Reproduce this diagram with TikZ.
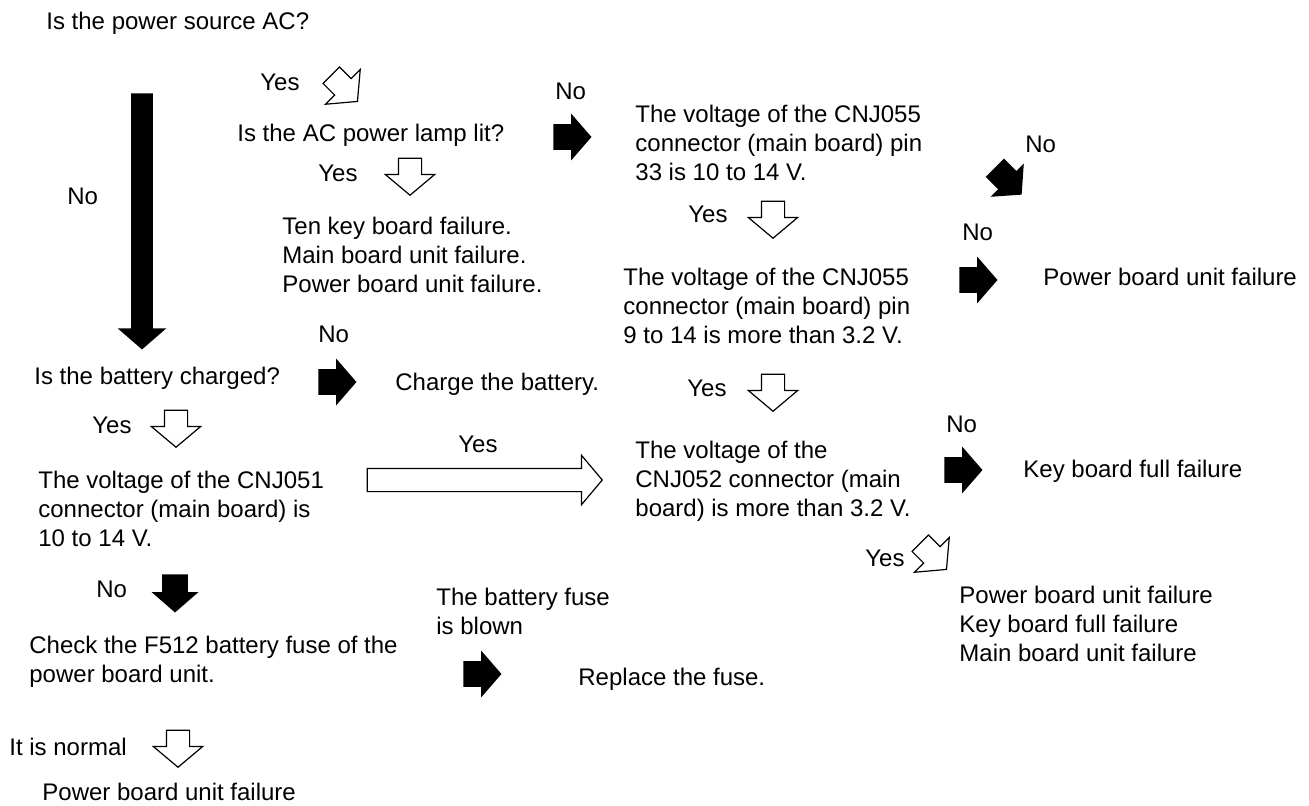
\documentclass[tikz,border=0pt]{standalone}
\usepackage{fontspec}
\setmainfont{Liberation Sans}
\usetikzlibrary{shapes.arrows}
\begin{document}
\begin{tikzpicture}[x=.5pt,y=-.5pt,
  txt/.style={anchor=base west,inner sep=0pt,align=left,font=\fontsize{12}{14.5}\selectfont},
  whitearr/.style={single arrow,draw,fill=white,line width=.6pt,inner xsep=0pt,inner ysep=5.5pt,anchor=tip,
    single arrow tip angle=100,single arrow head extend=6.5pt,minimum height=18.5pt},
  blackarr/.style={single arrow,fill=black,inner xsep=0pt,inner ysep=6.25pt,anchor=tip,
    single arrow tip angle=98,single arrow head extend=5.25pt,minimum height=19pt}]
\useasboundingbox (0,0) rectangle (1309,806);
% left column
\node[txt] (q1) at (46,30) {Is the power source AC?};
\node[blackarr,rotate=-90,inner ysep=5.25pt,single arrow head extend=6.75pt,minimum height=128pt] (bigno) at (142,350) {};
\node[txt] (n1) at (67,205) {No};
\node[txt] (q5) at (34,385) {Is the battery charged?};
\node[txt] (y4) at (92,433) {Yes};
\node[whitearr,rotate=-90] (a4) at (176,448) {};
\node[txt] (q6) at (38,546) {The voltage of the CNJ051\\connector (main board) is\\10 to 14 V.};
\node[txt] (n7) at (96,597) {No};
\node[blackarr,rotate=-90] (b5) at (175,613) {};
\node[txt] (q9) at (29,682) {Check the F512 battery fuse of the\\power board unit.};
\node[txt] (y8) at (9,755) {It is normal};
\node[whitearr,rotate=-90] (a6) at (178,768) {};
\node[txt] (r7) at (42,800) {Power board unit failure};
% AC branch
\node[txt] (y1) at (260,91) {Yes};
\node[whitearr,rotate=-45] (a1) at (358,102) {};
\node[txt] (q2) at (237,142) {Is the AC power lamp lit?};
\node[txt] (y2) at (318,182) {Yes};
\node[whitearr,rotate=-90] (a2) at (410,196) {};
\node[txt] (r1) at (282,293) {Ten key board failure.\\Main board unit failure.\\Power board unit failure.};
\node[txt] (n2) at (555,100) {No};
\node[blackarr] (b1) at (592,137) {};
\node[txt] (q3) at (635,181) {The voltage of the CNJ055\\connector (main board) pin\\33 is 10 to 14 V.};
\node[txt] (n3) at (1025,153) {No};
\node[blackarr,rotate=-45] (b2) at (1022,195) {};
\node[txt] (y3) at (688,223) {Yes};
\node[whitearr,rotate=-90] (a3) at (773,239) {};
\node[txt] (n4) at (962,241) {No};
\node[blackarr] (b3) at (998,280) {};
\node[txt] (r2) at (1043,286) {Power board unit failure};
\node[txt] (q4) at (623,344) {The voltage of the CNJ055\\connector (main board) pin\\9 to 14 is more than 3.2 V.};
% battery branch
\node[txt] (n5) at (318,343) {No};
\node[blackarr] (b4) at (357,382) {};
\node[txt] (r3) at (395,391) {Charge the battery.};
\node[txt] (y5) at (458,452) {Yes};
\node[whitearr,minimum height=117.5pt] (a5) at (603,480) {};
\node[txt] (y6) at (687,396) {Yes};
\node[whitearr,rotate=-90] (a7) at (773,412) {};
\node[txt] (q7) at (635,516) {The voltage of the\\CNJ052 connector (main\\board) is more than 3.2 V.};
\node[txt] (n6) at (946,432) {No};
\node[blackarr] (b7) at (983,470) {};
\node[txt] (r4) at (1023,477) {Key board full failure};
\node[txt] (y7) at (865,566) {Yes};
\node[whitearr,rotate=-45] (a8) at (947,570) {};
\node[txt] (r5) at (959,661) {Power board unit failure\\Key board full failure\\Main board unit failure};
% fuse
\node[txt] (q8) at (436,634) {The battery fuse\\is blown};
\node[blackarr] (b6) at (502,674) {};
\node[txt] (r6) at (578,685) {Replace the fuse.};
\end{tikzpicture}
\end{document}
